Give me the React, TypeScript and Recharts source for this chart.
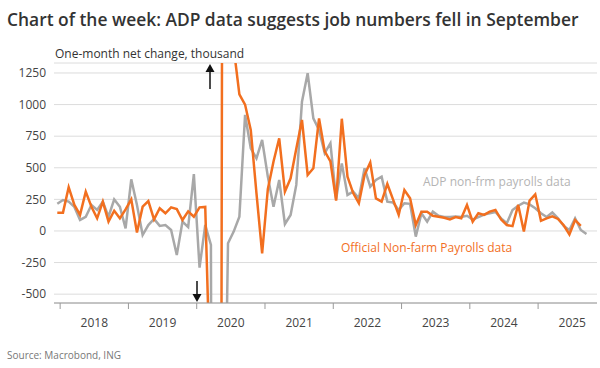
import React from 'react';
import { LineChart, Line, XAxis, YAxis, CartesianGrid } from 'recharts';

// month index 0 = Dec 2017
const nfpValues = [
  145, 145, 346, 206, 127, 311, 192, 100, 232, 74, 160, 100,
  170, 250, -12, 192, 237, 92, 180, 140, 187, 173, 87, 155,
  113, 187, 190, -1400, -20500, 2700, 4500, 1450, 1080, 1000, 800, 300,
  -177, 330, 550, 733, 311, 417, 650, 878, 443, 496, 891, 630,
  550, 240, 888, 430, 300, 219, 443, 541, 258, 232, 372, 250,
  127, 324, 258, 47, 153, 153, 120, 113, 105, 92, 110, 100,
  206, 74, 140, 127, 153, 166, 90, 47, 38, 206, -5, 240,
  290, 80, 100, 115, 95, 45, -28, 87, 40,
];

const adpValues = [
  215, 245, 232, 190, 87, 112, 206, 166, 232, 113, 250, 192,
  21, 409, 206, -32, 47, 95, 40, 47, 8, -190, 74, 30,
  450, -290, 47, -111, -19000, -3000, -97, -5, 113, 918, 654, 575,
  720, 430, 192, 403, 55, 127, 364, 1023, 1248, 891, 800, 615,
  694, 250, 535, 285, 311, 258, 496, 350, 403, 430, 232, 225,
  166, 219, 215, -45, 140, 74, 153, 120, 110, 110, 115, 110,
  120, 90, 110, 130, 140, 150, 100, 61, 166, 200, 224, 210,
  180, 140, 110, 146, 100, 40, 8, 100, 8, -24,
];

const years = ['2018', '2019', '2020', '2021', '2022', '2023', '2024', '2025'];
const yTicks = [-500, -250, 0, 250, 500, 750, 1000, 1250];

const data = adpValues.map((adp, i) => ({
  i,
  adp,
  nfp: i < nfpValues.length ? nfpValues[i] : null,
}));

const X_MIN = -0.58;
const X_MAX = 94.85;
const PLOT_W = 543;
const PPM = PLOT_W / (X_MAX - X_MIN);
const labelTicks = years.map((_, k) => 6.5 + k * 12);

const ORANGE = '#f26f1f';
const GREY = '#a8a8a8';
const FONT = '"Open Sans", sans-serif';

const XTick = (props: any) => {
  const { x, y, payload } = props;
  const k = Math.round((payload.value - 6.5) / 12);
  const tx = x - 6 * PPM;
  return (
    <g>
      <line x1={tx} x2={tx} y1={y - 8} y2={y - 2} stroke="#9a9a9a" />
      <text x={x} y={y + 11} textAnchor="middle" dominantBaseline="central" fontSize={12} fill="#444" fontFamily={FONT}>
        {years[k]}
      </text>
    </g>
  );
};

export default function App() {
  return (
    <div style={{ position: 'absolute', left: 0, top: 0, width: 600, height: 368, background: '#fff', fontFamily: FONT }}>
      <div style={{ position: 'absolute', left: 7, top: 7, fontSize: 17.4, fontWeight: 600, color: '#333', whiteSpace: 'nowrap' }}>
        Chart of the week: ADP data suggests job numbers fell in September
      </div>
      <div style={{ position: 'absolute', left: 55, top: 45, fontSize: 12, color: '#333', whiteSpace: 'nowrap' }}>
        One-month net change, thousand
      </div>
      <LineChart width={600} height={368} data={data} margin={{ top: 63, right: 3, bottom: 0, left: 0 }}>
        <CartesianGrid vertical={false} stroke="#dcdcdc" />
        <XAxis
          type="number"
          dataKey="i"
          domain={[X_MIN, X_MAX]}
          ticks={labelTicks}
          interval={0}
          tickLine={false}
          tick={<XTick />}
          axisLine={{ stroke: '#9a9a9a' }}
          height={65}
        />
        <YAxis
          domain={[-570, 1329]}
          ticks={yTicks}
          allowDataOverflow
          axisLine={false}
          tickLine={false}
          width={54}
          tick={{ fontSize: 12, fill: '#444', fontFamily: FONT }}
        />
        <Line type="linear" dataKey="adp" stroke={GREY} strokeWidth={2.5} dot={false} isAnimationActive={false} />
        <Line type="linear" dataKey="nfp" stroke={ORANGE} strokeWidth={2.5} dot={false} isAnimationActive={false} connectNulls={false} />
      </LineChart>
      <div style={{ position: 'absolute', left: 423, top: 173, fontSize: 12, color: '#b4b4b4', whiteSpace: 'nowrap' }}>
        ADP non-frm payrolls data
      </div>
      <div style={{ position: 'absolute', left: 341, top: 239, fontSize: 12, color: ORANGE, whiteSpace: 'nowrap' }}>
        Official Non-farm Payrolls data
      </div>
      <svg width={600} height={368} style={{ position: 'absolute', left: 0, top: 0, pointerEvents: 'none' }}>
        <line x1={210} x2={210} y1={89} y2={70} stroke="#111" strokeWidth={1.5} />
        <polygon points="205.5,72 214.5,72 210,64" fill="#111" />
        <line x1={197} x2={197} y1={281} y2={296} stroke="#111" strokeWidth={1.5} />
        <polygon points="192.5,294 201.5,294 197,302" fill="#111" />
      </svg>
      <div style={{ position: 'absolute', left: 7, top: 348, fontSize: 10, color: '#777', whiteSpace: 'nowrap' }}>
        Source: Macrobond, ING
      </div>
    </div>
  );
}
